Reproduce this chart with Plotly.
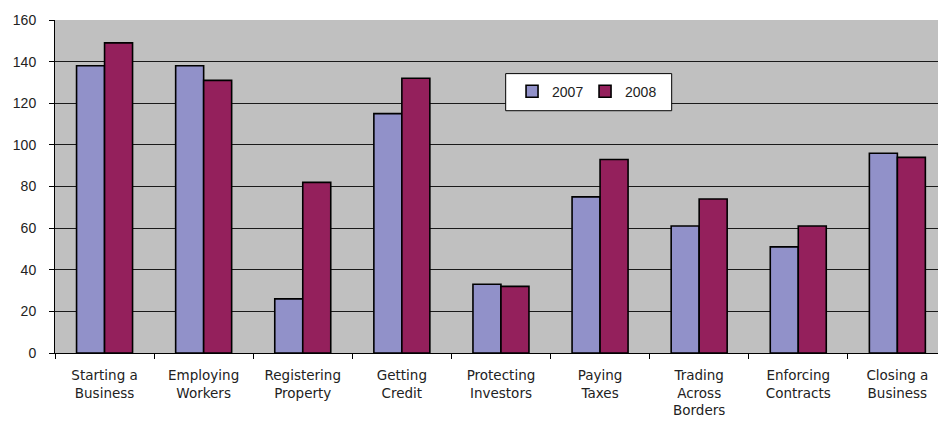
import plotly.graph_objects as go

categories = ["Starting a<br>Business", "Employing<br>Workers", "Registering<br>Property",
              "Getting<br>Credit", "Protecting<br>Investors", "Paying<br>Taxes",
              "Trading<br>Across<br>Borders", "Enforcing<br>Contracts", "Closing a<br>Business"]
values_2007 = [138, 138, 26, 115, 33, 75, 61, 51, 96]
values_2008 = [149, 131, 82, 132, 32, 93, 74, 61, 94]
y_ticks = [0, 20, 40, 60, 80, 100, 120, 140, 160]

FONT = "Liberation Sans, Arial, sans-serif"

fig = go.Figure()
fig.add_trace(go.Bar(name="2007", x=categories, y=values_2007,
                     marker=dict(color="#9191C9", line=dict(color="#000000", width=1.6))))
fig.add_trace(go.Bar(name="2008", x=categories, y=values_2008,
                     marker=dict(color="#94205C", line=dict(color="#000000", width=1.6))))

fig.update_layout(
    width=938, height=421,
    margin=dict(l=55, r=0, t=20, b=68, autoexpand=False),
    paper_bgcolor="#FFFFFF",
    plot_bgcolor="#C0C0C0",
    barmode="group", bargap=0.435, bargroupgap=0,
    font=dict(family=FONT, size=14, color="#222222"),
    showlegend=True,
    legend=dict(orientation="h", x=0.5176, y=0.785, xanchor="left", yanchor="middle",
                bgcolor="rgba(0,0,0,0)", borderwidth=0, font=dict(size=14),
                itemwidth=30, entrywidth=28),
    shapes=[dict(type="rect", xref="paper", yref="paper", x0=0.5104, x1=0.6984,
                 y0=0.7276, y1=0.839, fillcolor="#FFFFFF",
                 line=dict(color="#000000", width=1), layer="above")],
)
fig.update_xaxes(type="category", range=[-0.5, 8.41], showline=True, linecolor="#000000",
                 linewidth=1, ticks="outside", tickson="boundaries", ticklen=5,
                 tickcolor="#000000", showgrid=False, tickangle=0, automargin=False,
                 tickfont=dict(family="DejaVu Sans, sans-serif", size=13.5),
                 ticklabelstandoff=10)
fig.update_yaxes(range=[0, 160], tickvals=y_ticks, showline=True, linecolor="#000000",
                 linewidth=1, ticks="outside", ticklen=5, tickcolor="#000000",
                 showgrid=True, gridcolor="#1a1a1a", gridwidth=1, zeroline=False,
                 automargin=False, ticklabelstandoff=10)

fig.write_html("out.html")
